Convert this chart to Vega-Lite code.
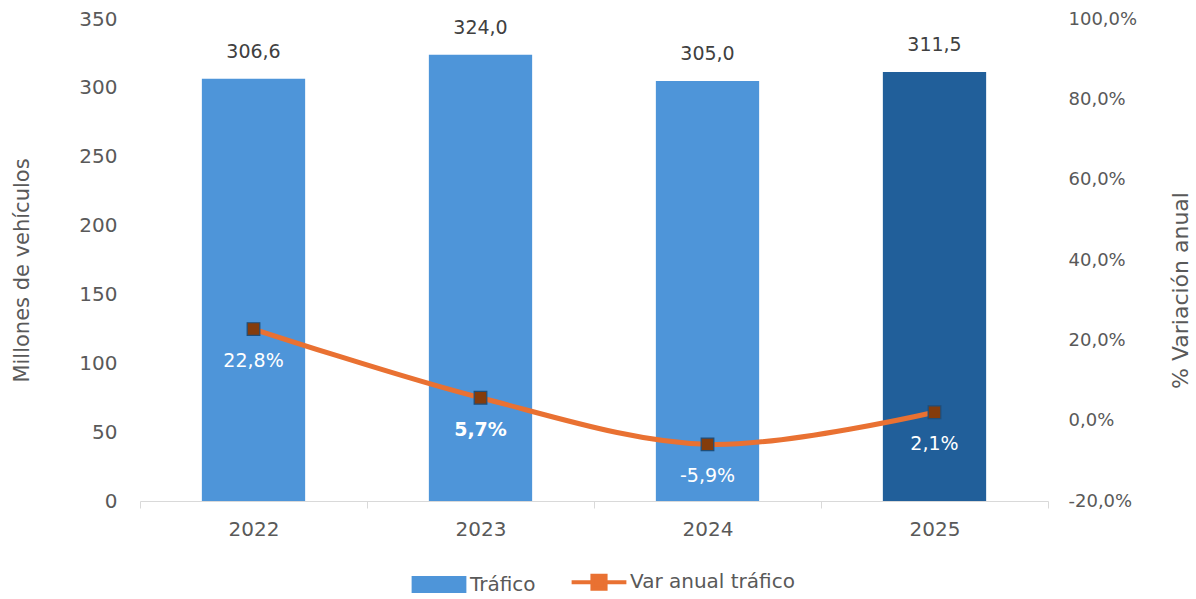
{
  "$schema": "https://vega.github.io/schema/vega-lite/v6.json",
  "autosize": "none",
  "width": 908,
  "height": 482,
  "padding": {"left": 140, "top": 19, "right": 148, "bottom": 98},
  "background": "white",
  "config": {
    "locale": {"number": {"decimal": ",", "thousands": ".", "grouping": [3], "currency": ["", " €"], "minus": "-"}},
    "font": "DejaVu Sans",
    "view": {"stroke": null},
    "axis": {"labelFont": "DejaVu Sans", "titleFont": "DejaVu Sans", "labelColor": "#595959", "titleColor": "#595959", "labelFontSize": 20, "titleFontSize": 21, "titleFontWeight": "normal", "grid": false}
  },
  "data": {"values": [
    {"year": "2022", "trafico": 306.6, "var": 0.228},
    {"year": "2023", "trafico": 324.0, "var": 0.057},
    {"year": "2024", "trafico": 305.0, "var": -0.059},
    {"year": "2025", "trafico": 311.5, "var": 0.021}
  ]},
  "encoding": {
    "x": {"field": "year", "type": "ordinal", "scale": {"paddingInner": 0, "paddingOuter": 0},
      "axis": {"title": null, "labelAngle": 0, "domainColor": "#D9D9D9", "tickColor": "#D9D9D9", "tickSize": 7, "tickBand": "extent", "labelPadding": 11, "domainWidth": 1}}
  },
  "layer": [
    {
      "layer": [
        {
          "mark": {"type": "bar", "width": {"band": 0.455}},
          "encoding": {
            "y": {"field": "trafico", "type": "quantitative", "scale": {"domain": [0, 350]},
              "axis": {"title": "Millones de vehículos", "values": [0, 50, 100, 150, 200, 250, 300, 350], "domain": false, "ticks": false, "tickSize": 0, "labelPadding": 23, "titlePadding": 46, "titleFontSize": 21, "titleY": 251}},
            "color": {"datum": "Tráfico", "type": "nominal",
              "condition": {"test": "datum.year == '2025'", "value": "#215F9A"},
              "scale": {"domain": ["Tráfico", "Var anual tráfico"], "range": ["#4E95D9", "#E97132"]},
              "legend": {"title": null, "orient": "none", "legendX": 274, "legendY": 553, "direction": "horizontal",
                "labelFontSize": 20, "labelColor": "#595959", "labelFont": "DejaVu Sans", "labelLimit": 400, "symbolSize": 3000, "columnPadding": 27, "labelOffset": 21, "symbolOffset": 15,
                "encode": {"symbols": {"update": {
                  "shape": {"signal": "datum.value === 'Tráfico' ? 'M-1,-0.31H1V0.31H-1Z' : 'M-1,0H-0.24M0.24,0H1M-0.24,-0.24H0.24V0.24H-0.24Z'"},
                  "size": {"value": 3000},
                  "fill": {"signal": "datum.value === 'Tráfico' ? '#4E95D9' : '#843C0C'"},
                  "stroke": {"signal": "datum.value === 'Tráfico' ? '#4E95D9' : '#E97132'"},
                  "strokeWidth": {"signal": "datum.value === 'Tráfico' ? 0 : 4"},
                  "opacity": {"value": 1}
                }}}}
            }
          }
        },
        {
          "mark": {"type": "text", "dy": -27, "fontSize": 19, "color": "#404040", "font": "DejaVu Sans"},
          "encoding": {
            "y": {"field": "trafico", "type": "quantitative"},
            "text": {"field": "trafico", "type": "quantitative", "format": ".1f"}
          }
        }
      ]
    },
    {
      "layer": [
        {
          "mark": {"type": "line", "interpolate": "cardinal", "strokeWidth": 5, "strokeCap": "round"},
          "encoding": {
            "y": {"field": "var", "type": "quantitative", "scale": {"domain": [-0.2, 1.0]},
              "axis": {"orient": "right", "title": "% Variación anual", "format": ".1%", "values": [-0.2, 0, 0.2, 0.4, 0.6, 0.8, 1.0], "domain": false, "ticks": false, "tickSize": 0, "labelPadding": 20, "labelFontSize": 18, "titlePadding": 56, "titleAngle": 270, "titleBaseline": "bottom", "titleFontSize": 22, "titleY": 271}},
            "color": {"datum": "Var anual tráfico", "type": "nominal"}
          }
        },
        {
          "mark": {"type": "point", "shape": "square", "size": 160, "filled": true, "fill": "#843C0C", "stroke": "#1F4E79", "strokeWidth": 1.2, "opacity": 1},
          "encoding": {"y": {"field": "var", "type": "quantitative"}}
        },
        {
          "transform": [{"filter": "datum.year != '2023'"}],
          "mark": {"type": "text", "dy": 32, "fontSize": 19, "color": "white", "font": "DejaVu Sans"},
          "encoding": {
            "y": {"field": "var", "type": "quantitative"},
            "text": {"field": "var", "type": "quantitative", "format": ".1%"}
          }
        },
        {
          "transform": [{"filter": "datum.year == '2023'"}],
          "mark": {"type": "text", "dy": 32, "fontSize": 19, "color": "white", "font": "DejaVu Sans", "fontWeight": "bold"},
          "encoding": {
            "y": {"field": "var", "type": "quantitative"},
            "text": {"field": "var", "type": "quantitative", "format": ".1%"}
          }
        }
      ]
    }
  ],
  "resolve": {"scale": {"y": "independent"}}
}
